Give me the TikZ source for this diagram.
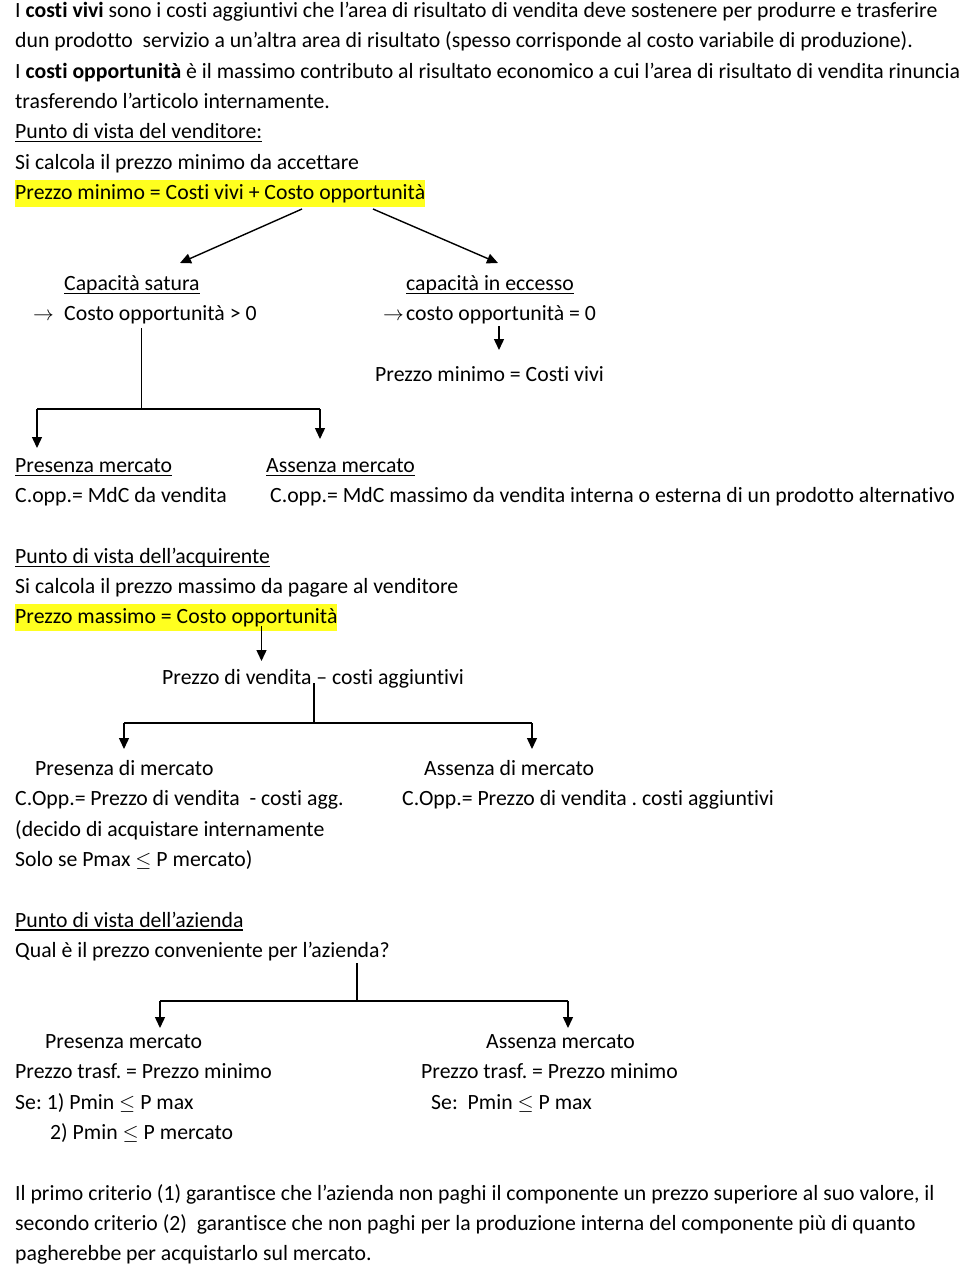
\documentclass[tikz,border=0pt]{standalone}
\usepackage{fontspec}
\setmainfont[Ligatures=NoCommon]{Carlito}
\usetikzlibrary{arrows.meta}
\newcommand\myul[1]{\setbox0\hbox{#1}\rlap{\rule[-3.4pt]{\wd0}{1.2pt}}\box0}
\definecolor{hlyellow}{HTML}{FFFF1F}
\frenchspacing
\tikzset{
  txt/.style={anchor=base west, inner sep=0pt, font=\fontsize{21.75}{26}\selectfont\frenchspacing},
  hl/.style={txt, fill=hlyellow, text height=19.5pt, text depth=7.5pt},
  conn/.style={line width=1.4pt},
  arr/.style={conn, -{Triangle[width=10pt,length=11pt]}}
}
\begin{document}
\begin{tikzpicture}[x=1pt,y=-1pt]
\useasboundingbox (0,0) rectangle (960,1269);
% Intro
\node[txt] (l0) at (15,17.5) {I \textbf{costi vivi} sono i costi aggiuntivi che l’area di risultato di vendita deve sostenere per produrre e trasferire};
\node[txt] (l1) at (15,47.8) {dun prodotto~ servizio a un’altra area di risultato (spesso corrisponde al costo variabile di produzione).};
\node[txt] (l2) at (15,78.1) {I \textbf{costi opportunità} è il massimo contributo al risultato economico a cui l’area di risultato di vendita rinuncia};
\node[txt] (l3) at (15,108.5) {trasferendo l’articolo internamente.};
% Venditore
\node[txt] (v0) at (15,138.8) {\myul{Punto di vista del venditore:}};
\node[txt] (v1) at (15,169.1) {Si calcola il prezzo minimo da accettare};
\node[hl] (v2) at (15,199.4) {Prezzo minimo = Costi vivi + Costo opportunità};
\coordinate (v2l) at (302,209);
\coordinate (v2r) at (373,209);
\coordinate (satT) at (180,263);
\coordinate (eccT) at (498,263);
\node[txt] (sat) at (64,290.4) {\myul{Capacità satura}};
\node[txt] (sat2) at (33,320.7) {\makebox[31pt][l]{$\rightarrow$}Costo opportunità > 0};
\node[txt] (ecc) at (406,290.4) {\myul{capacità in eccesso}};
\node[txt] (ecc2) at (383,320.7) {\makebox[23pt][l]{$\rightarrow$}costo opportunità = 0};
\node[txt] (pmin) at (375,381.3) {Prezzo minimo = Costi vivi};
\draw[arr] (v2l) -- (satT);
\draw[arr] (v2r) -- (eccT);
\coordinate (e1) at (499,326);
\coordinate (e2) at (499,350);
\draw[arr] (e1) -- (e2);
\coordinate (s1) at (141.5,328);
\coordinate (s2) at (141.5,409);
\coordinate (sL) at (37,409);
\coordinate (sR) at (320,409);
\coordinate (sLt) at (37,448);
\coordinate (sRt) at (320,439);
\draw[conn] (s1) -- (s2);
\draw[conn] (sL) -- (sR);
\draw[arr] (sL) -- (sLt);
\draw[arr] (sR) -- (sRt);
\node[txt] (pm) at (15,472.3) {\myul{Presenza mercato}};
\node[txt] (am) at (266,472.3) {\myul{Assenza mercato}};
\node[txt] (pm2) at (15,502.6) {C.opp.= MdC da vendita};
\node[txt] (am2) at (270,502.6) {C.opp.= MdC massimo da vendita interna o esterna di un prodotto alternativo};
% Acquirente
\node[txt] (a0) at (15,563.3) {\myul{Punto di vista dell’acquirente}};
\node[txt] (a1) at (15,593.6) {Si calcola il prezzo massimo da pagare al venditore};
\node[hl] (a2) at (15,623.9) {Prezzo massimo = Costo opportunità};
\coordinate (a2d) at (261.5,626);
\coordinate (pvT) at (261.5,661);
\draw[arr] (a2d) -- (pvT);
\node[txt] (pv) at (162,684.5) {Prezzo di vendita – costi aggiuntivi};
\coordinate (p1) at (314,683);
\coordinate (p2) at (314,723);
\coordinate (pL) at (124,723);
\coordinate (pR) at (532,723);
\coordinate (pLt) at (124,749);
\coordinate (pRt) at (532,749);
\draw[conn] (p1) -- (p2);
\draw[conn] (pL) -- (pR);
\draw[arr] (pL) -- (pLt);
\draw[arr] (pR) -- (pRt);
\node[txt] (pdm) at (35,775.5) {Presenza di mercato};
\node[txt] (adm) at (424,775.5) {Assenza di mercato};
\node[txt] (pdm2) at (15,805.8) {C.Opp.= Prezzo di vendita~ - costi agg.};
\node[txt] (adm2) at (402,805.8) {C.Opp.= Prezzo di vendita . costi aggiuntivi};
\node[txt] (pdm3) at (15,836.1) {(decido di acquistare internamente};
\node[txt] (pdm4) at (15,866.5) {Solo se Pmax $\leq$ P mercato)};
% Azienda
\node[txt] (z0) at (15,927.1) {\myul{Punto di vista dell’azienda}};
\node[txt] (z1) at (15,957.4) {Qual è il prezzo conveniente per l’azienda?};
\coordinate (q1) at (357,963);
\coordinate (q2) at (357,1001);
\coordinate (qL) at (160,1001);
\coordinate (qR) at (568,1001);
\coordinate (qLt) at (160,1028);
\coordinate (qRt) at (568,1028);
\draw[conn] (q1) -- (q2);
\draw[conn] (qL) -- (qR);
\draw[arr] (qL) -- (qLt);
\draw[arr] (qR) -- (qRt);
\node[txt] (zp) at (45,1048.4) {Presenza mercato};
\node[txt] (za) at (486,1048.4) {Assenza mercato};
\node[txt] (zp2) at (15,1078.7) {Prezzo trasf. = Prezzo minimo};
\node[txt] (za2) at (421,1078.7) {Prezzo trasf. = Prezzo minimo};
\node[txt] (zp3) at (15,1109.0) {Se: 1) Pmin $\leq$ P max};
\node[txt] (za3) at (431,1109.0) {Se:~ Pmin $\leq$ P max};
\node[txt] (zp4) at (50,1139.3) {2) Pmin $\leq$ P mercato};
% Conclusion
\node[txt] (c0) at (15,1200.0) {Il primo criterio (1) garantisce che l’azienda non paghi il componente un prezzo superiore al suo valore, il};
\node[txt] (c1) at (15,1230.3) {secondo criterio (2)~ garantisce che non paghi per la produzione interna del componente più di quanto};
\node[txt] (c2) at (15,1260.6) {pagherebbe per acquistarlo sul mercato.};
\end{tikzpicture}
\end{document}
